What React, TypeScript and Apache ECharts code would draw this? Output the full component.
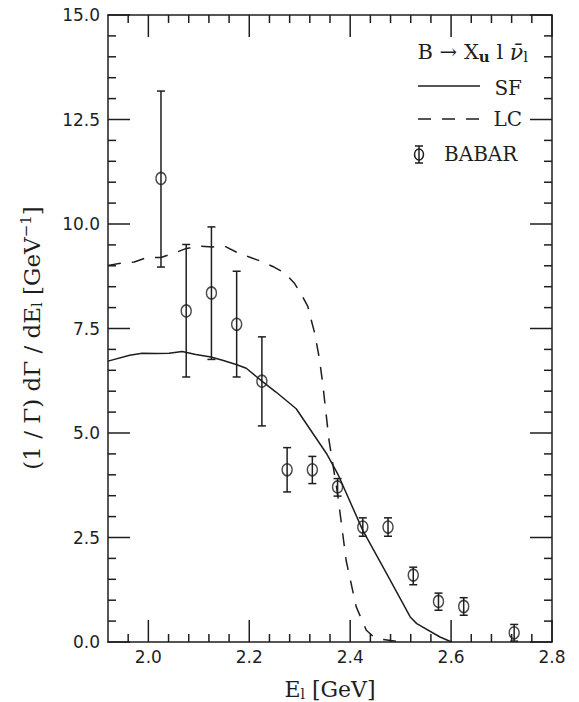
import React, { useEffect, useRef } from 'react';
import * as echarts from 'echarts';

// ---------- data ----------
const xMin = 1.92;
const xMax = 2.8;
const xMajorTicks = [2.0, 2.2, 2.4, 2.6, 2.8];
const xMinorStep = 0.04;
const yMin = 0;
const yMax = 15;
const yMajorTicks = [0, 2.5, 5, 7.5, 10, 12.5, 15];
const yMinorStep = 0.5;

// SF (solid) curve
const sfE = [1.92, 1.963, 1.988, 2.015, 2.041, 2.067, 2.094, 2.124, 2.147, 2.174, 2.194, 2.225, 2.253, 2.293, 2.353, 2.375, 2.425, 2.472, 2.519, 2.532, 2.578, 2.601];
const sfY = [6.72, 6.86, 6.91, 6.9, 6.91, 6.95, 6.88, 6.82, 6.74, 6.64, 6.55, 6.24, 5.98, 5.58, 4.51, 4.03, 2.67, 1.64, 0.6, 0.44, 0.12, 0.0];

// LC (dashed) curve
const lcE = [1.92, 1.945, 1.972, 1.998, 2.025, 2.048, 2.074, 2.1, 2.127, 2.151, 2.174, 2.2, 2.223, 2.249, 2.27, 2.289, 2.303, 2.316, 2.322, 2.329, 2.334, 2.339, 2.346, 2.358, 2.375, 2.392, 2.412, 2.432, 2.445, 2.465, 2.5];
const lcY = [9.01, 9.06, 9.09, 9.2, 9.2, 9.29, 9.41, 9.47, 9.45, 9.47, 9.33, 9.21, 9.11, 8.97, 8.83, 8.59, 8.32, 8.03, 7.74, 7.42, 7.1, 6.78, 6.14, 4.83, 3.55, 1.95, 0.84, 0.28, 0.14, 0.06, 0.0];

// BABAR data points
const babarE = [2.025, 2.075, 2.125, 2.175, 2.225, 2.275, 2.325, 2.375, 2.425, 2.475, 2.525, 2.575, 2.625, 2.725];
const babarY = [11.09, 7.92, 8.35, 7.6, 6.24, 4.12, 4.12, 3.71, 2.75, 2.75, 1.6, 0.97, 0.85, 0.22];
const babarLow = [8.97, 6.34, 6.76, 6.34, 5.17, 3.59, 3.79, 3.49, 2.53, 2.53, 1.37, 0.76, 0.64, 0.02];
const babarHigh = [13.18, 9.51, 9.93, 8.87, 7.3, 4.65, 4.44, 3.91, 2.97, 2.97, 1.79, 1.17, 1.06, 0.42];

const legendTitle = 'B \u2192 X{u|u} l {nu|\u03BD\u0304}{sub|l}';
const legendLabels = ['SF', 'LC', 'BABAR'];
const xTitle = 'E{sub|l} [GeV]';
const yTitle = '(1 / \u0393) d\u0393 / dE{sub|l} [GeV{sup|\u22121}]';

// ---------- style ----------
const INK = '#1e1e1e';
const SERIF = '"DejaVu Serif", serif';
const SANS = '"DejaVu Sans", sans-serif';
const DASH = [13, 11];
const MAJOR_LEN = 22;
const MINOR_LEN = 8;

function stepTicks(lo: number, hi: number, step: number, skipEvery: number): number[] {
  const out: number[] = [];
  const n = Math.round((hi - lo) / step);
  for (let i = 1; i < n; i++) {
    const v = Math.round((lo + i * step) * 1000) / 1000;
    const k = Math.round((v / skipEvery) * 1000) / 1000;
    if (Math.abs(k - Math.round(k)) < 1e-6) continue;
    out.push(v);
  }
  return out;
}
const xMinorTicks = stepTicks(xMin, xMax, xMinorStep, 0.2);
const yMinorTicks = stepTicks(yMin, yMax, yMinorStep, 2.5);

function tl() {
  return { color: INK, width: 1.5 };
}

function axisDef(kind: 'x' | 'y', position: string, labels: boolean): any {
  return {
    type: 'value',
    min: kind === 'x' ? xMin : yMin,
    max: kind === 'x' ? xMax : yMax,
    position,
    axisLine: { show: true, onZero: false, lineStyle: tl() },
    axisTick: { show: false },
    axisLabel: labels
      ? {
          show: true,
          customValues: kind === 'x' ? xMajorTicks : yMajorTicks,
          margin: kind === 'x' ? 6 : 8,
          color: INK,
          fontFamily: SANS,
          fontSize: 17,
          formatter: (v: number) => v.toFixed(1),
        }
      : { show: false },
    splitLine: { show: false },
  };
}

export default function App() {
  const ref = useRef<HTMLDivElement>(null);

  useEffect(() => {
    document.body.style.margin = '0';
    if (!ref.current) return;
    const chart = echarts.init(ref.current, undefined, { renderer: 'svg' });

    const sfData = sfE.map((e, i) => [e, sfY[i]]);
    const lcData = lcE.map((e, i) => [e, lcY[i]]);
    const errData = babarE.map((e, i) => [e, babarLow[i], babarHigh[i]]);
    const ptData = babarE.map((e, i) => [e, babarY[i]]);
    // tick marks as [x, y, length]
    const xTickData = [...xMajorTicks.map((v) => [v, yMin, MAJOR_LEN]), ...xMinorTicks.map((v) => [v, yMin, MINOR_LEN])];
    const yTickData = [...yMajorTicks.map((v) => [xMin, v, MAJOR_LEN]), ...yMinorTicks.map((v) => [xMin, v, MINOR_LEN])];

    const mk = () => ({ stroke: INK, lineWidth: 1.5 });

    chart.setOption({
      animation: false,
      grid: { left: 108, right: 27, top: 15, bottom: 60 },
      xAxis: [axisDef('x', 'bottom', true), axisDef('x', 'top', false)],
      yAxis: [axisDef('y', 'left', true), axisDef('y', 'right', false)],
      series: [
        {
          name: legendLabels[0],
          type: 'line',
          data: sfData,
          showSymbol: false,
          symbol: 'none',
          lineStyle: { color: INK, width: 1.5 },
        },
        {
          name: legendLabels[1],
          type: 'line',
          data: lcData,
          showSymbol: false,
          symbol: 'none',
          lineStyle: { color: INK, width: 1.5, type: DASH },
        },
        {
          name: legendLabels[2] + ' errors',
          type: 'custom',
          data: errData,
          encode: { x: 0, y: [1, 2] },
          renderItem: (params: any, api: any) => {
            const x = api.value(0);
            const top = api.coord([x, api.value(2)]);
            const bot = api.coord([x, api.value(1)]);
            const cw = 4;
            return {
              type: 'group',
              children: [
                { type: 'line', shape: { x1: top[0], y1: top[1], x2: bot[0], y2: bot[1] }, style: mk() },
                { type: 'line', shape: { x1: top[0] - cw, y1: top[1], x2: top[0] + cw, y2: top[1] }, style: mk() },
                { type: 'line', shape: { x1: bot[0] - cw, y1: bot[1], x2: bot[0] + cw, y2: bot[1] }, style: mk() },
              ],
            };
          },
          z: 4,
        },
        {
          name: legendLabels[2],
          type: 'scatter',
          data: ptData,
          symbol: 'circle',
          symbolSize: [10, 12],
          itemStyle: { color: 'none', borderColor: INK, borderWidth: 1.5 },
          z: 5,
        },
        {
          name: 'x ticks',
          type: 'custom',
          data: xTickData,
          encode: { x: 0, y: 1 },
          renderItem: (params: any, api: any) => {
            const v = api.value(0);
            const len = api.value(2);
            const b = api.coord([v, yMin]);
            const t = api.coord([v, yMax]);
            return {
              type: 'group',
              children: [
                { type: 'line', shape: { x1: b[0], y1: b[1], x2: b[0], y2: b[1] - len }, style: mk() },
                { type: 'line', shape: { x1: t[0], y1: t[1], x2: t[0], y2: t[1] + len }, style: mk() },
              ],
            };
          },
          z: 10,
        },
        {
          name: 'y ticks',
          type: 'custom',
          data: yTickData,
          encode: { x: 0, y: 1 },
          renderItem: (params: any, api: any) => {
            const v = api.value(1);
            const len = api.value(2);
            const l = api.coord([xMin, v]);
            const r = api.coord([xMax, v]);
            return {
              type: 'group',
              children: [
                { type: 'line', shape: { x1: l[0], y1: l[1], x2: l[0] + len, y2: l[1] }, style: mk() },
                { type: 'line', shape: { x1: r[0], y1: r[1], x2: r[0] - len, y2: r[1] }, style: mk() },
              ],
            };
          },
          z: 10,
        },
      ],
      graphic: [
        {
          type: 'text',
          x: 330,
          y: 689,
          style: {
            text: xTitle,
            align: 'center',
            verticalAlign: 'middle',
            fontFamily: SERIF,
            fontSize: 22,
            fill: INK,
            rich: { sub: { fontFamily: SERIF, fontSize: 14, fill: INK, padding: [10, 0, 0, 0] } },
          },
        },
        {
          type: 'text',
          x: 32,
          y: 338,
          rotation: Math.PI / 2,
          style: {
            text: yTitle,
            align: 'center',
            verticalAlign: 'middle',
            fontFamily: SERIF,
            fontSize: 23,
            fill: INK,
            rich: {
              sub: { fontFamily: SERIF, fontSize: 15, fill: INK, padding: [10, 0, 0, 0] },
              sup: { fontFamily: SERIF, fontSize: 15, fill: INK, padding: [0, 0, 12, 0] },
            },
          },
        },
        {
          type: 'text',
          x: 528,
          y: 52,
          style: {
            text: legendTitle,
            align: 'right',
            verticalAlign: 'middle',
            fontFamily: SERIF,
            fontSize: 21,
            fill: INK,
            rich: {
              u: { fontFamily: SERIF, fontSize: 15, fontWeight: 'bold', fill: INK, padding: [9, 0, 0, 0] },
              nu: { fontFamily: SERIF, fontSize: 22, fontStyle: 'italic', fill: INK },
              sub: { fontFamily: SERIF, fontSize: 15, fill: INK, padding: [9, 0, 0, 0] },
            },
          },
        },
        { type: 'line', shape: { x1: 418, y1: 86, x2: 480, y2: 86 }, style: { stroke: INK, lineWidth: 1.5 } },
        {
          type: 'text',
          x: 522,
          y: 88,
          style: { text: legendLabels[0], align: 'right', verticalAlign: 'middle', fontFamily: SERIF, fontSize: 20, fill: INK },
        },
        { type: 'line', shape: { x1: 418, y1: 119, x2: 481, y2: 119 }, style: { stroke: INK, lineWidth: 1.5, lineDash: DASH } },
        {
          type: 'text',
          x: 522,
          y: 119,
          style: { text: legendLabels[1], align: 'right', verticalAlign: 'middle', fontFamily: SERIF, fontSize: 20, fill: INK },
        },
        {
          type: 'group',
          children: [
            { type: 'line', shape: { x1: 419, y1: 146, x2: 419, y2: 163 }, style: { stroke: INK, lineWidth: 1.5 } },
            { type: 'line', shape: { x1: 415, y1: 146, x2: 423, y2: 146 }, style: { stroke: INK, lineWidth: 1.5 } },
            { type: 'line', shape: { x1: 415, y1: 163, x2: 423, y2: 163 }, style: { stroke: INK, lineWidth: 1.5 } },
            { type: 'ellipse', shape: { cx: 419, cy: 154.5, rx: 4.5, ry: 5.5 }, style: { stroke: INK, fill: 'none', lineWidth: 1.5 } },
          ],
        },
        {
          type: 'text',
          x: 444,
          y: 154,
          style: { text: legendLabels[2], align: 'left', verticalAlign: 'middle', fontFamily: SERIF, fontSize: 20, fill: INK },
        },
      ],
    });

    return () => {
      chart.dispose();
    };
  }, []);

  return <div ref={ref} style={{ width: 579, height: 702 }} />;
}
